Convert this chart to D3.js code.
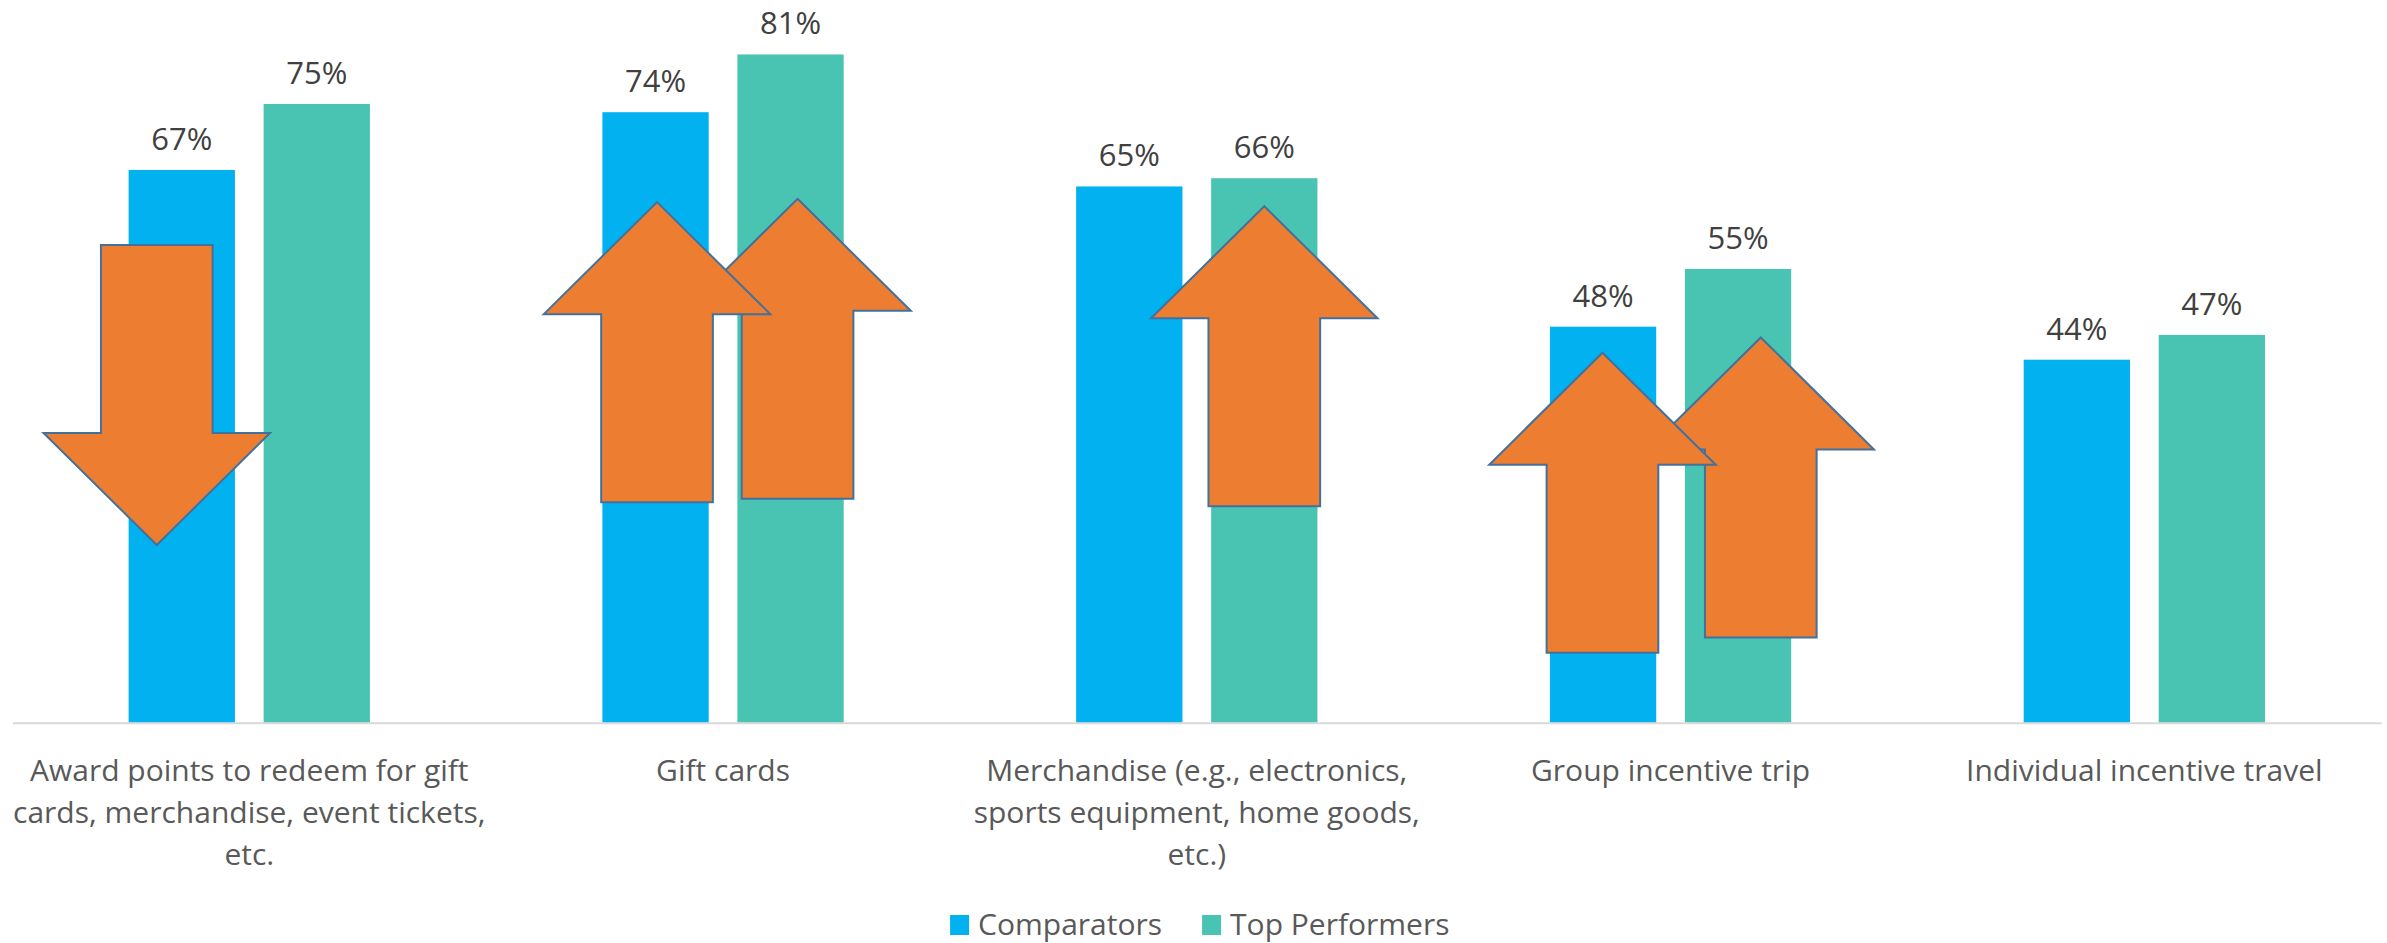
<!DOCTYPE html>
<html>
<head>
<meta charset="utf-8">
<script src="https://cdn.jsdelivr.net/npm/d3@7"></script>
<style>
  html, body { margin: 0; padding: 0; background: #ffffff; }
  svg { display: block; }
  text { font-family: "Open Sans", "Noto Sans", sans-serif; }
</style>
</head>
<body>
<svg id="chart" width="2387" height="943"></svg>
<script>
// Reward types offered, share of respondents
const categories = [
  "Award points to redeem for gift\ncards, merchandise, event tickets,\netc.",
  "Gift cards",
  "Merchandise (e.g., electronics,\nsports equipment, home goods,\netc.)",
  "Group incentive trip",
  "Individual incentive travel"
];
const seriesNames = ["Comparators", "Top Performers"];
const comparators = [0.67, 0.74, 0.65, 0.48, 0.44];
const topPerformers = [0.75, 0.81, 0.66, 0.55, 0.47];

const seriesColors = { "Comparators": "#02B1F0", "Top Performers": "#4AC4B2" };

// Callout arrows placed over bars: level is where the arrow starts (tip for up arrows,
// tail for down arrows), in chart value units
const arrows = [
  { cat: 0, series: "Comparators",    dx: -25,  dir: "down", level: 0.579 },
  { cat: 1, series: "Top Performers", dx: 7,    dir: "up",   level: 0.635 },
  { cat: 1, series: "Comparators",    dx: 1.5,  dir: "up",   level: 0.631 },
  { cat: 2, series: "Top Performers", dx: 0,    dir: "up",   level: 0.626 },
  { cat: 3, series: "Top Performers", dx: 22.7, dir: "up",   level: 0.467 },
  { cat: 3, series: "Comparators",    dx: -0.6, dir: "up",   level: 0.4485 }
];

const svg = d3.select("#chart");
const plotLeft = 12.4, plotRight = 2381.2, baseY = 722.7;

const x0 = d3.scaleBand().domain(categories).range([plotLeft, plotRight]).padding(0);
const groupW = 241.3;
const x1 = d3.scaleBand().domain(seriesNames)
  .range([(x0.bandwidth() - groupW) / 2, (x0.bandwidth() + groupW) / 2])
  .paddingInner(0.2127).paddingOuter(0);
const y = d3.scaleLinear().domain([0, 1]).range([baseY, baseY - 825]);

const rows = categories.map((c, i) => ({
  cat: c,
  values: [
    { series: "Comparators", value: comparators[i] },
    { series: "Top Performers", value: topPerformers[i] }
  ]
}));

// Bars
const groups = svg.append("g").selectAll("g").data(rows).join("g")
  .attr("transform", d => `translate(${x0(d.cat)},0)`);

groups.selectAll("rect").data(d => d.values).join("rect")
  .attr("x", d => x1(d.series))
  .attr("width", x1.bandwidth())
  .attr("y", d => y(d.value))
  .attr("height", d => y(0) - y(d.value))
  .attr("fill", d => seriesColors[d.series]);

// Value labels
groups.selectAll("text.val").data(d => d.values).join("text")
  .attr("class", "val")
  .attr("x", d => x1(d.series) + x1.bandwidth() / 2)
  .attr("y", d => y(d.value) - 20)
  .attr("text-anchor", "middle")
  .attr("font-size", 31)
  .attr("fill", "#404040")
  .text(d => d3.format(".0%")(d.value));

// Category axis line
const xAxis = d3.axisBottom(x0).tickSize(0).tickFormat("");
const axisG = svg.append("g").attr("transform", `translate(0,${baseY})`).call(xAxis);
axisG.select(".domain").attr("stroke", "#D9D9D9").attr("stroke-width", 2);

// Category labels
const catLabels = svg.append("g").selectAll("text").data(categories).join("text")
  .attr("x", d => x0(d) + x0.bandwidth() / 2)
  .attr("y", 781)
  .attr("text-anchor", "middle")
  .attr("font-size", 30)
  .attr("fill", "#595959");
catLabels.each(function(d) {
  const t = d3.select(this);
  d.split("\n").forEach((line, k) => {
    t.append("tspan")
      .attr("x", x0(d) + x0.bandwidth() / 2)
      .attr("dy", k === 0 ? 0 : 42)
      .text(line);
  });
});

// Arrows
const L = 300, headH = 112, headHalf = 113.25, shaftHalf = 55.85;
function arrowPoints(cx, ty, dir) {
  if (dir === "up") {
    return [[cx, ty], [cx + headHalf, ty + headH], [cx + shaftHalf, ty + headH],
            [cx + shaftHalf, ty + L], [cx - shaftHalf, ty + L], [cx - shaftHalf, ty + headH],
            [cx - headHalf, ty + headH]];
  }
  return [[cx - shaftHalf, ty], [cx + shaftHalf, ty], [cx + shaftHalf, ty + L - headH],
          [cx + headHalf, ty + L - headH], [cx, ty + L], [cx - headHalf, ty + L - headH],
          [cx - shaftHalf, ty + L - headH]];
}
svg.append("g").selectAll("path").data(arrows).join("path")
  .attr("d", a => {
    const cx = x0(categories[a.cat]) + x1(a.series) + x1.bandwidth() / 2 + a.dx;
    return "M" + arrowPoints(cx, y(a.level), a.dir).map(p => p.join(",")).join("L") + "Z";
  })
  .attr("fill", "#ED7D31")
  .attr("stroke", "#41719C")
  .attr("stroke-width", 2)
  .attr("stroke-linejoin", "miter");

// Legend
const legend = svg.append("g");
const items = legend.selectAll("g").data(seriesNames).join("g");
items.append("rect").attr("width", 19).attr("height", 20).attr("y", 915)
  .attr("fill", d => seriesColors[d]);
items.append("text").attr("x", 28).attr("y", 935)
  .attr("font-size", 30).attr("fill", "#595959").text(d => d);
const widths = [];
items.each(function() {
  const w = 28 + d3.select(this).select("text").node().getComputedTextLength();
  widths.push(w);
});
const gap = 40;
const total = d3.sum(widths) + gap * (widths.length - 1);
const start = (plotLeft + plotRight) / 2 - total / 2 + 3;
items.attr("transform", (d, i) => {
  const tx = start + d3.sum(widths.slice(0, i)) + gap * i;
  return `translate(${tx},0)`;
});
</script>
</body>
</html>
